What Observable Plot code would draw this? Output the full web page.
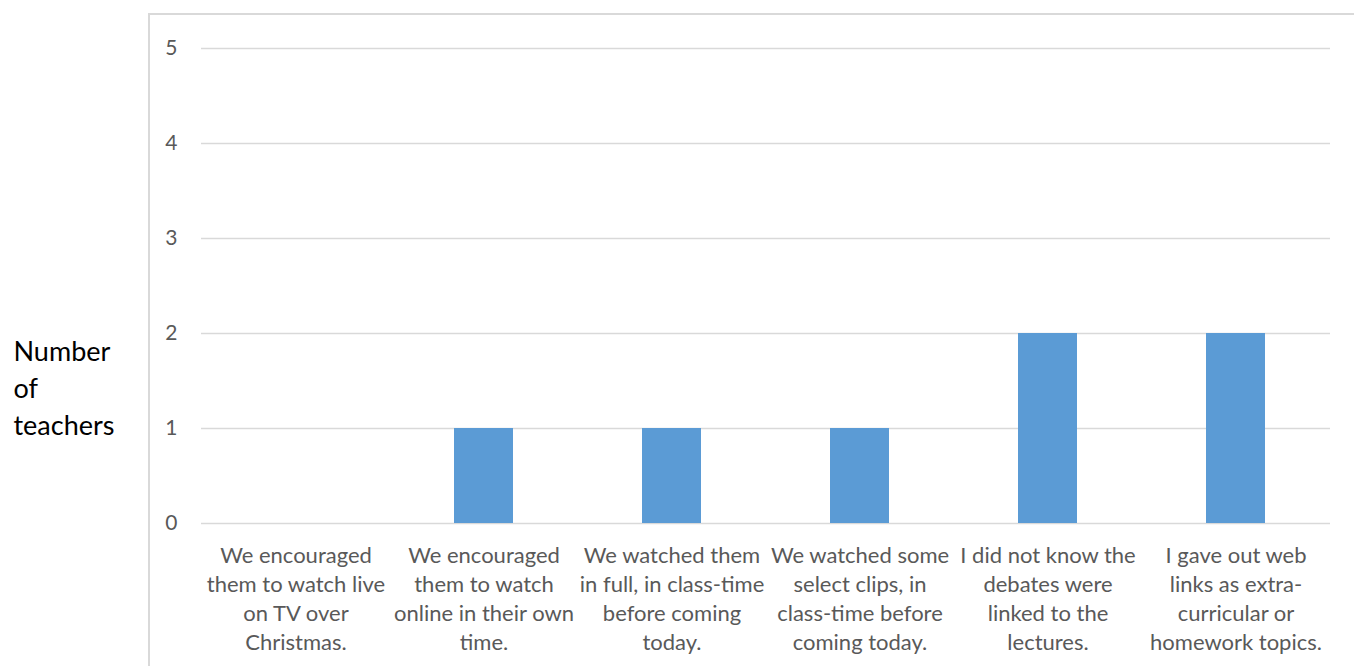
<!DOCTYPE html>
<html><head><meta charset="utf-8">
<script src="https://cdn.jsdelivr.net/npm/d3@7"></script>
<script src="https://cdn.jsdelivr.net/npm/@observablehq/plot@0.6"></script>
<style>
html,body{margin:0;padding:0;background:#fff;}
#wrap{position:relative;width:1354px;height:666px;overflow:hidden;}
#frame{position:absolute;left:148px;top:13px;width:1220px;height:670px;border-left:2px solid #d9d9d9;border-top:2px solid #d9d9d9;}
#chart{position:absolute;left:0;top:0;}
</style></head><body>
<div id="wrap"><div id="frame"></div><div id="chart"></div></div>
<script>
const categories = [
  "We encouraged them to watch live on TV over Christmas.",
  "We encouraged them to watch online in their own time.",
  "We watched them in full, in class-time before coming today.",
  "We watched some select clips, in class-time before coming today.",
  "I did not know the debates were linked to the lectures.",
  "I gave out web links as extra-curricular or homework topics."
];
const tickLabels = [
  "We encouraged\nthem to watch live\non TV over\nChristmas.",
  "We encouraged\nthem to watch\nonline in their own\ntime.",
  "We watched them\nin full, in class-time\nbefore coming\ntoday.",
  "We watched some\nselect clips, in\nclass-time before\ncoming today.",
  "I did not know the\ndebates were\nlinked to the\nlectures.",
  "I gave out web\nlinks as extra-\ncurricular or\nhomework topics."
];
const values = [0, 1, 1, 1, 2, 2];
const yTicks = [0, 1, 2, 3, 4, 5];
const yLabel = "Number\nof\nteachers";

const data = categories.map((c, i) => ({category: c, value: values[i]}));

const chart = Plot.plot({
  width: 1354,
  height: 666,
  marginLeft: 201,
  marginRight: 24,
  marginTop: 48,
  marginBottom: 143,
  style: {fontFamily: "Lato, sans-serif", background: "transparent", overflow: "visible"},
  x: {domain: categories, paddingInner: 0.687, paddingOuter: 0.3435},
  y: {domain: [0, 5]},
  marks: [
    Plot.gridY(yTicks, {stroke: "#d9d9d9", strokeOpacity: 1, strokeWidth: 1.5}),
    Plot.barY(data, {x: "category", y: "value", fill: "#5b9bd5"}),
    Plot.axisY(yTicks, {tickSize: 0, tickPadding: 24, fontSize: 21, fill: "#595959", label: null,
      tickFormat: d3.format("d")}),
    Plot.axisX({tickSize: 0, tickPadding: 19, fontSize: 22, fill: "#595959", lineHeight: 1.32,
      tickFormat: d => tickLabels[categories.indexOf(d)], label: null}),
    Plot.text([yLabel], {text: d => d, frameAnchor: "left", dx: -188, dy: 100, textAnchor: "start",
      lineAnchor: "middle", fontSize: 27, lineHeight: 1.37, fill: "#000"})
  ]
});
document.getElementById("chart").appendChild(chart);
</script>
</body></html>
